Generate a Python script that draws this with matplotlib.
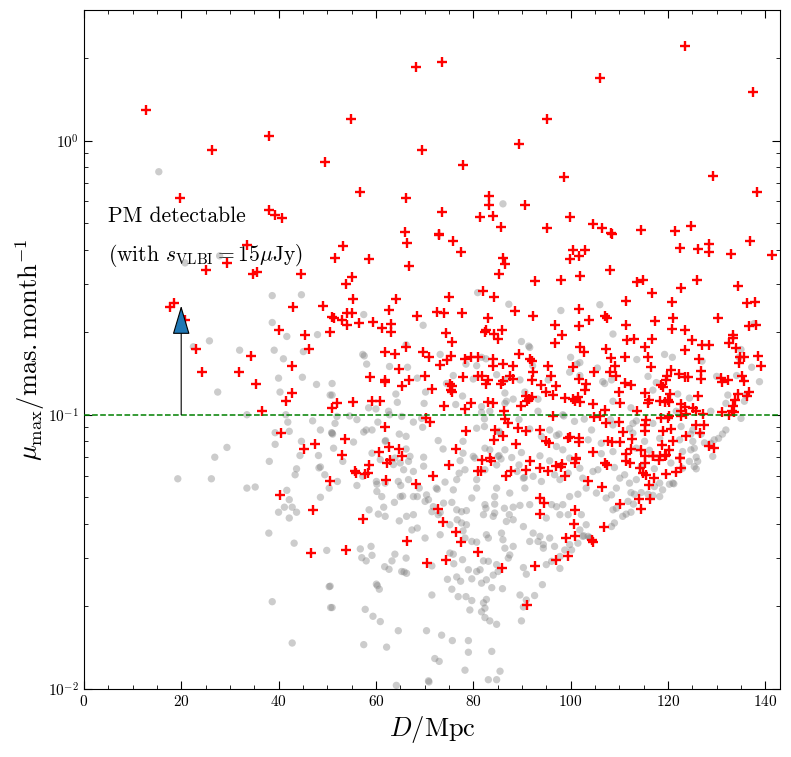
import matplotlib
matplotlib.use("Agg")
import matplotlib.pyplot as plt
import numpy as np

plt.rcParams['font.family'] = 'serif'
plt.rcParams['font.serif'] = ['cmr10']
plt.rcParams['mathtext.fontset'] = 'cm'
plt.rcParams['axes.formatter.use_mathtext'] = True

# PM-detectable sources (red pluses): (D [Mpc], mu_max [mas/month])
red_points = [
    (12.8,1.29),(26.3,0.925),(19.8,0.62),(38.0,1.04),(38.0,0.559),(39.3,0.536),(40.8,0.52),
    (49.5,0.833),(54.9,1.20),(56.8,0.648),(66.1,0.62),(65.9,0.463),(68.3,1.86),(69.5,0.925),
    (73.5,1.93),(77.8,0.815),(89.4,0.97),(95.2,1.20),(106.0,1.69),(123.5,2.22),(137.4,1.51),
    (98.6,0.735),(129.2,0.743),(138.3,0.648),(73.5,0.551),(83.3,0.628),(83.3,0.583),(90.7,0.583),
    (81.4,0.528),(84.1,0.531),(85.8,0.486),(95.2,0.482),(99.8,0.525),(104.7,0.495),(106.5,0.479),
    (108.2,0.459),(114.5,0.472),(121.5,0.468),(124.8,0.489),(73.0,0.455),
    (33.5,0.417),(29.4,0.358),(25.1,0.338),(34.8,0.326),(35.5,0.332),(44.7,0.326),(17.8,0.248),
    (18.6,0.256),(20.8,0.221),(42.9,0.247),(49.2,0.25),(50.9,0.227),(40.1,0.204),(45.4,0.196),
    (50.6,0.2),(23.0,0.174),(46.3,0.174),(34.4,0.164),(42.7,0.15),(24.3,0.143),(31.8,0.143),
    (35.3,0.129),(42.8,0.12),(41.5,0.112),(36.5,0.103),(50.9,0.106),(40.5,0.086),(45.2,0.075),
    (47.5,0.078),(50.6,0.0575),(40.3,0.051),(47.0,0.0448),(46.7,0.0313),
    (66.3,0.423),(72.9,0.451),(75.9,0.429),(77.4,0.393),(53.2,0.411),(51.5,0.373),(58.6,0.371),
    (66.9,0.348),(55.1,0.317),(53.8,0.300),(55.2,0.264),(64.1,0.265),(75.0,0.269),(62.6,0.242),
    (72.5,0.238),(74.0,0.236),(77.6,0.235),(54.0,0.235),(55.1,0.235),(51.4,0.226),(53.0,0.222),
    (54.0,0.213),(56.6,0.217),(59.3,0.218),(68.4,0.229),(63.2,0.214),(63.2,0.201),(61.3,0.207),
    (74.4,0.199),(75.7,0.185),(66.1,0.176),(61.9,0.169),(63.9,0.166),(69.7,0.169),(70.9,0.162),
    (73.2,0.152),(74.7,0.159),(75.5,0.164),(78.3,0.16),(79.5,0.162),(80.9,0.163),(64.8,0.147),
    (58.7,0.137),(61.8,0.134),(61.8,0.132),(66.9,0.134),(70.1,0.139),(65.3,0.127),(71.5,0.124),
    (77.9,0.137),(80.9,0.139),(75.2,0.13),(75.7,0.127),(75.4,0.123),(75.7,0.121),(52.0,0.11),
    (55.2,0.111),(59.2,0.112),(60.9,0.112),(74.0,0.108),(78.3,0.105),(79.5,0.110),(70.2,0.097),
    (71.1,0.094),(61.8,0.0906),(78.6,0.0875),(53.7,0.0815),(60.7,0.0734),(62.7,0.0762),
    (64.8,0.075),(76.4,0.075),(53.0,0.0715),(65.3,0.0705),
    (108.4,0.457),(100.4,0.398),(102.9,0.398),(99.8,0.37),(101.7,0.378),(86.1,0.373),(86.6,0.356),
    (85.3,0.327),(108.1,0.338),(92.6,0.308),(98.1,0.311),(101.9,0.32),(81.9,0.282),(84.2,0.269),
    (111.4,0.261),(88.5,0.239),(101.7,0.244),(92.3,0.229),(83.1,0.226),(103.8,0.222),(107.0,0.23),
    (107.5,0.225),(96.7,0.212),(101.7,0.21),(111.4,0.212),(82.4,0.201),(82.7,0.204),(84.3,0.197),
    (85.1,0.189),(85.9,0.204),(98.3,0.196),(96.7,0.182),(111.6,0.188),(101.9,0.177),(102.8,0.169),
    (107.3,0.173),(89.4,0.166),(91.6,0.16),(92.1,0.157),(84.1,0.16),(84.1,0.151),(86.1,0.153),
    (88.1,0.151),(95.4,0.15),(100.5,0.149),(108.2,0.161),(109.2,0.151),(111.2,0.162),(92.3,0.143),
    (92.1,0.134),(95.9,0.139),(87.5,0.138),(88.2,0.135),(81.7,0.138),(83.1,0.134),(82.7,0.13),
    (86.1,0.133),(85.8,0.129),(101.7,0.135),(104.8,0.143),(108.0,0.143),(109.4,0.139),(111.1,0.131),
    (94.0,0.128),(96.9,0.127),(103.2,0.13),(103.0,0.123),(95.0,0.121),(96.3,0.118),(109.9,0.121),
    (90.9,0.117),(91.4,0.114),(92.0,0.116),(91.1,0.112),(89.9,0.108),(83.1,0.111),(84.1,0.11),
    (98.8,0.115),(100.5,0.114),(101.5,0.116),(101.0,0.112),(101.9,0.111),(104.6,0.109),(107.0,0.104),
    (110.1,0.11),(86.3,0.103),(86.6,0.0966),(87.2,0.093),(96.4,0.0986),(104.9,0.098),(106.0,0.0986),
    (107.3,0.093),(109.9,0.0937),(84.4,0.088),(89.2,0.0893),(90.8,0.0873),(93.7,0.088),(110.7,0.0865),
    (86.1,0.084),(84.2,0.081),(95.0,0.0804),(95.5,0.0787),(99.5,0.0822),(99.9,0.0828),(101.7,0.0822),
    (101.7,0.0795),(107.7,0.0805),(108.5,0.0795),(110.1,0.0795),(88.7,0.078),(104.6,0.0734),
    (111.4,0.0721),(101.2,0.0695),(83.4,0.0695),
    (122.5,0.406),(126.2,0.402),(128.5,0.42),(128.5,0.394),(132.9,0.387),(136.8,0.432),(141.3,0.383),
    (113.6,0.305),(114.8,0.311),(126.0,0.311),(122.6,0.29),(116.8,0.278),(134.4,0.294),(120.8,0.258),
    (136.2,0.255),(137.9,0.257),(117.4,0.219),(121.0,0.225),(120.8,0.206),(130.2,0.225),(123.6,0.204),
    (136.6,0.21),(138.1,0.213),(133.3,0.196),(133.3,0.19),(132.6,0.182),(113.1,0.189),(116.8,0.189),
    (125.0,0.188),(115.3,0.177),(127.0,0.179),(128.5,0.18),(134.0,0.175),(123.6,0.172),(115.9,0.162),
    (126.3,0.16),(135.7,0.163),(134.8,0.163),(138.4,0.164),(134.5,0.154),(139.2,0.15),(116.5,0.149),
    (120.6,0.146),(119.8,0.139),(119.5,0.134),(122.2,0.141),(123.6,0.137),(124.1,0.137),(126.7,0.144),
    (126.7,0.135),(112.4,0.128),(118.6,0.128),(118.9,0.126),(130.9,0.136),(132.3,0.134),(131.2,0.132),
    (135.3,0.138),(135.7,0.133),(115.3,0.12),(120.5,0.119),(126.1,0.117),(134.3,0.119),(133.8,0.113),
    (133.3,0.108),(133.1,0.103),(136.7,0.121),(136.2,0.117),(116.1,0.113),(115.9,0.11),(118.3,0.112),
    (119.3,0.111),(120.0,0.113),(120.3,0.111),(122.7,0.109),(123.4,0.107),(125.1,0.106),(113.6,0.103),
    (122.7,0.103),(123.7,0.101),(125.8,0.103),(127.1,0.101),(131.2,0.102),(132.6,0.1),(133.6,0.102),
    (115.5,0.096),(115.2,0.092),(118.6,0.097),(120.0,0.097),(120.3,0.0986),(122.7,0.0986),(125.8,0.092),
    (127.5,0.092),(115.2,0.0873),(118.9,0.0869),(120.6,0.0887),(123.7,0.0834),(126.5,0.0857),
    (112.7,0.0815),(118.8,0.0776),(121.0,0.08),(128.5,0.077),(129.5,0.0755),(112.4,0.075),
    (114.5,0.0742),(115.2,0.0708),(116.9,0.0708),(118.3,0.0708),(119.6,0.0714),(122.4,0.0698),
    (120.3,0.0745),
    (58.5,0.0658),(55.7,0.0625),(55.9,0.0612),(57.8,0.0607),(58.3,0.0612),(62.2,0.0667),(62.8,0.0686),
    (62.1,0.058),(68.2,0.0558),(71.8,0.0598),(75.0,0.0658),(80.9,0.0621),(72.7,0.0453),(73.7,0.0405),
    (57.3,0.0416),(66.3,0.0347),(76.4,0.0375),(77.4,0.0343),(53.9,0.0321),(70.4,0.0288),(74.3,0.0294),
    (81.0,0.0315),
    (81.7,0.0686),(83.6,0.0676),(81.6,0.0621),(86.7,0.0596),(87.7,0.0621),(91.6,0.0676),(90.9,0.063),
    (93.7,0.0638),(95.4,0.0625),(97.1,0.0652),(98.3,0.066),(98.1,0.0647),(101.2,0.069),(100.8,0.0667),
    (98.8,0.0596),(103.6,0.0574),(107.0,0.0667),(107.5,0.0653),(111.4,0.0676),(106.5,0.0547),
    (93.7,0.0497),(94.6,0.0476),(93.7,0.0434),(101.0,0.045),(100.7,0.0399),(99.0,0.0356),(100.8,0.036),
    (104.3,0.035),(104.6,0.0343),(106.8,0.0391),(110.1,0.0472),(96.9,0.0296),(99.5,0.0305),
    (92.6,0.0281),(86.0,0.0275),(91.1,0.0203),
    (115.2,0.0667),(114.2,0.0638),(114.8,0.0612),(115.4,0.0601),(116.9,0.0705),(118.1,0.0686),
    (119.3,0.0705),(117.2,0.059),(119.6,0.0607),(121.7,0.0618),(122.7,0.0638),(122.4,0.0695),
    (116.2,0.0556),(114.0,0.0493),(116.3,0.0492),(114.5,0.0454),(112.3,0.0667),
]

# other sources (grey dots): (D [Mpc], mu_max [mas/month])
grey_points = [
    (15.4,0.77),(86.1,0.588),
    (27.9,0.38),(20.8,0.358),(38.7,0.272),(44.7,0.274),(38.7,0.217),(41.7,0.193),(48.0,0.196),
    (25.8,0.186),(22.5,0.177),(32.0,0.172),(39.1,0.172),(45.1,0.17),(41.0,0.16),(40.0,0.136),
    (44.9,0.137),(47.8,0.129),(50.6,0.118),(27.5,0.121),(40.3,0.121),(33.5,0.1),(41.5,0.1),
    (41.9,0.094),(47.0,0.095),(39.3,0.086),(42.2,0.087),(48.6,0.088),(50.9,0.086),(44.7,0.08),
    (39.3,0.078),(29.4,0.076),(48.2,0.071),(26.9,0.07),(44.4,0.071),
    (38.1,0.0676),(48.3,0.064),(48.6,0.0645),(43.7,0.0635),(43.4,0.0604),(49.5,0.0604),(19.3,0.0584),
    (26.2,0.0584),(33.5,0.054),(35.2,0.0545),(41.7,0.053),(50.4,0.054),(42.2,0.049),(48.6,0.05),
    (41.2,0.046),(42.8,0.046),(40.0,0.0441),(43.7,0.0441),(42.2,0.042),(38.0,0.037),(43.2,0.034),
    (49.9,0.032),(50.4,0.0236),(50.7,0.0198),(38.7,0.0208),(42.8,0.0147),
    (80.9,0.279),(57.5,0.232),(69.7,0.212),(66.2,0.18),(57.3,0.166),(57.6,0.164),(58.1,0.153),
    (62.8,0.15),(66.5,0.149),(73.2,0.166),(78.5,0.153),(80.7,0.151),(75.9,0.139),(80.0,0.135),
    (68.5,0.136),(51.0,0.13),(51.0,0.118),(64.1,0.119),(70.2,0.121),(74.5,0.13),(64.4,0.111),
    (69.9,0.11),(76.4,0.109),(77.8,0.117),(58.5,0.106),(60.0,0.105),(62.6,0.103),(62.8,0.1),
    (52.0,0.0986),(54.6,0.099),(56.1,0.096),(65.3,0.0986),(67.7,0.094),(69.4,0.097),(69.6,0.09),
    (60.4,0.094),(58.0,0.088),(59.2,0.088),(57.5,0.0865),(51.6,0.093),(51.0,0.0857),(51.1,0.0850),
    (64.8,0.085),(66.2,0.0834),(61.9,0.08),(62.0,0.0805),(55.4,0.0795),(72.8,0.0805),(77.9,0.08),
    (80.7,0.0893),(73.8,0.075),(51.3,0.0755),(59.2,0.0724),(66.2,0.075),(67.0,0.0705),(77.9,0.0724),
    (80.0,0.0705),
    (87.3,0.253),(98.0,0.24),(106.0,0.252),(108.7,0.197),(89.9,0.185),(91.6,0.176),(91.4,0.178),
    (100.0,0.162),(82.6,0.16),(81.7,0.162),(92.2,0.151),(101.3,0.153),(101.9,0.155),(105.5,0.148),
    (99.8,0.143),(101.9,0.139),(86.8,0.135),(84.8,0.14),(89.6,0.134),(95.4,0.134),(107.0,0.13),
    (106.6,0.132),(108.4,0.134),(90.6,0.121),(86.5,0.12),(86.8,0.112),(86.5,0.11),(88.2,0.114),
    (93.3,0.114),(81.7,0.107),(81.7,0.102),(83.4,0.103),(93.3,0.103),(98.4,0.1),(98.6,0.099),
    (108.7,0.112),(82.3,0.0966),(82.3,0.0906),(89.4,0.096),(100.8,0.0946),(102.8,0.0964),
    (108.2,0.096),(108.7,0.0918),(85.5,0.0857),(85.3,0.087),(91.6,0.0887),(95.7,0.088),(94.0,0.0834),
    (97.1,0.084),(97.6,0.085),(104.3,0.088),(103.6,0.081),(106.3,0.0787),(97.1,0.0766),(98.4,0.0745),
    (82.4,0.0755),(83.4,0.0745),(86.5,0.0745),(89.9,0.0728),(93.7,0.0708),(106.3,0.0721),
    (108.7,0.0734),(85.1,0.0705),(85.3,0.071),(99.8,0.0695),
    (113.6,0.159),(119.3,0.166),(120.9,0.162),(127.0,0.157),(115.9,0.138),(117.6,0.131),(130.0,0.138),
    (134.1,0.139),(137.2,0.149),(138.8,0.132),(135.0,0.173),(134.6,0.162),(137.7,0.215),(116.9,0.123),
    (122.0,0.119),(124.4,0.115),(132.3,0.118),(131.9,0.11),(136.0,0.118),(135.7,0.112),(112.4,0.106),
    (121.7,0.103),(128.8,0.103),(135.0,0.097),(112.8,0.093),(113.5,0.095),(112.1,0.089),(116.9,0.093),
    (122.7,0.0906),(125.1,0.088),(124.7,0.085),(126.8,0.085),(131.9,0.088),(131.2,0.085),(130.4,0.082),
    (129.5,0.081),(128.8,0.0787),(112.8,0.0857),(115.2,0.08),(118.3,0.082),(122.4,0.081),(125.1,0.08),
    (125.4,0.0755),(124.7,0.0745),(127.5,0.079),(113.5,0.0755),(116.2,0.0742),(123.0,0.0734),
    (125.8,0.07),
    (53.2,0.0676),(60.9,0.0686),(63.6,0.0658),(65.0,0.0667),(66.7,0.0676),(63.9,0.0695),(69.8,0.07),
    (65.7,0.063),(67.7,0.0621),(69.8,0.0649),(52.1,0.0571),(56.1,0.0552),(57.3,0.0596),(60.1,0.0571),
    (60.2,0.0558),(61.9,0.0563),(64.6,0.0571),(65.1,0.0552),(66.7,0.058),(60.2,0.0525),(61.2,0.0503),
    (65.0,0.0503),(65.5,0.0505),(67.7,0.0503),(68.5,0.0503),(68.9,0.054),(70.4,0.051),(70.8,0.049),
    (70.1,0.0483),(72.4,0.054),(72.6,0.0535),(74.2,0.0568),(76.6,0.058),(75.9,0.0532),(77.1,0.0612),
    (78.3,0.063),(77.3,0.068),(80.3,0.0695),(80.7,0.058),(79.7,0.0497),(80.7,0.054),(63.8,0.0479),
    (61.6,0.046),(58.6,0.045),(60.5,0.0434),(61.9,0.0426),(64.8,0.041),(66.3,0.0426),(67.7,0.0432),
    (71.5,0.0443),(71.8,0.0462),(73.9,0.0476),(75.6,0.0479),(72.8,0.0432),(73.2,0.044),(76.6,0.045),
    (77.6,0.0443),(78.6,0.0447),(76.7,0.0414),(77.6,0.0403),(78.6,0.0397),(75.2,0.0397),(67.4,0.038),
    (68.5,0.0386),(73.2,0.0365),(70.1,0.0355),(77.9,0.0377),(78.3,0.0355),(79.7,0.0345),(80.7,0.0343),
    (59.0,0.0331),(56.8,0.0324),(57.1,0.0301),(58.0,0.0293),(59.2,0.0307),(63.9,0.031),(63.3,0.0293),
    (66.2,0.03),(61.8,0.0279),(62.7,0.0273),(65.3,0.0268),(66.3,0.0264),(65.8,0.0267),(75.2,0.0313),
    (75.9,0.031),(76.0,0.0286),(77.8,0.0296),(71.5,0.0281),(79.0,0.0272),(74.7,0.0251),(76.6,0.0256),
    (77.4,0.0247),(79.7,0.0252),(80.7,0.0268),(75.6,0.0231),(76.9,0.0217),(78.5,0.0217),(79.7,0.021),
    (60.1,0.0241),(60.7,0.0231),(60.3,0.0238),(71.5,0.022),(50.6,0.0237),(51.0,0.0198),(57.8,0.0195),
    (59.4,0.0184),(60.9,0.0176),(64.6,0.0163),(70.4,0.0163),(73.5,0.0157),(75.7,0.015),(79.0,0.015),
    (79.3,0.0194),(57.5,0.0145),(62.2,0.0142),(79.0,0.0136),(72.1,0.0129),(73.0,0.0126),(78.3,0.0117),
    (70.8,0.0107),(70.9,0.0106),(64.2,0.0103),
    (82.4,0.063),(84.8,0.0656),(85.7,0.069),(87.9,0.0698),(89.4,0.0656),(89.0,0.0621),(90.3,0.0587),
    (90.5,0.0590),(92.3,0.0596),(94.0,0.0571),(95.7,0.0679),(96.7,0.0604),(97.8,0.058),(99.5,0.0612),
    (101.9,0.0638),(102.5,0.0587),(104.6,0.0621),(105.6,0.063),(109.0,0.0642),(110.1,0.0587),
    (111.1,0.0604),(109.4,0.054),(108.4,0.051),(107.3,0.0497),(105.3,0.0518),(103.2,0.054),
    (101.5,0.0513),(99.8,0.0503),(98.4,0.047),(97.1,0.0462),(96.1,0.047),(97.8,0.0432),(99.5,0.0432),
    (102.2,0.0432),(103.2,0.0397),(101.9,0.038),(102.5,0.036),(102.7,0.0362),(103.6,0.036),(95.0,0.042),
    (95.7,0.0355),(94.4,0.0336),(93.7,0.036),(92.3,0.037),(91.6,0.0345),(93.3,0.0345),(94.4,0.0326),
    (90.3,0.0391),(88.2,0.0414),(86.8,0.0408),(87.4,0.0432),(84.1,0.0426),(84.4,0.0438),(82.4,0.047),
    (82.6,0.0456),(84.4,0.0472),(86.4,0.0456),(88.2,0.046),(89.6,0.0467),(91.6,0.047),(90.6,0.054),
    (87.5,0.0518),(84.8,0.054),(84.4,0.0503),(82.1,0.0432),(82.7,0.0365),(83.1,0.0355),(85.8,0.037),
    (86.1,0.035),(88.2,0.0331),(86.5,0.0326),(87.5,0.0308),(87.2,0.03),(83.1,0.0292),(82.1,0.0293),
    (84.8,0.0284),(85.1,0.0268),(84.1,0.026),(82.7,0.025),(81.7,0.0243),(81.4,0.0272),(83.8,0.0234),
    (86.0,0.0232),(82.1,0.0206),(82.7,0.0212),(82.4,0.0197),(81.7,0.0191),(82.4,0.0182),(83.4,0.0177),
    (84.8,0.0172),(89.9,0.0177),(89.6,0.022),(90.9,0.0211),(92.6,0.0219),(90.3,0.0199),(94.2,0.024),
    (90.3,0.0277),(90.9,0.0262),(95.0,0.0284),(96.1,0.0292),(97.8,0.0275),(97.8,0.0304),(96.7,0.0331),
    (98.8,0.0321),(100.2,0.0321),(99.8,0.0336),(101.5,0.034),(103.9,0.0356),(104.1,0.0354),
    (108.4,0.0391),(109.0,0.0403),(110.7,0.0426),(111.4,0.0434),(109.4,0.0456),(108.7,0.045),
    (111.8,0.0483),(83.8,0.0137),(85.5,0.0116),(84.8,0.0108),(83.1,0.0108),
    (120.6,0.0667),(124.4,0.0676),(126.1,0.0676),(125.4,0.0647),(125.8,0.0635),(129.2,0.0705),
    (123.0,0.0638),(117.2,0.0635),(114.5,0.0647),(118.3,0.0563),(118.9,0.0532),(120.3,0.0558),
    (121.0,0.0563),(121.2,0.0560),(113.5,0.058),(112.1,0.0563),(112.4,0.052),(113.1,0.0513),
    (114.5,0.052),(115.9,0.0513),(116.9,0.0508),(118.3,0.0503),(112.9,0.0472),(112.4,0.0441),
    (117.2,0.0547),
]

red_D = [p[0] for p in red_points]
red_mu = [p[1] for p in red_points]
grey_D = [p[0] for p in grey_points]
grey_mu = [p[1] for p in grey_points]

mu_threshold = 0.1
arrow_D = 20
arrow_top = 0.25

fig = plt.figure(figsize=(7.91, 7.57), dpi=100)
ax = fig.add_axes([0.106, 0.090, 0.880, 0.897])

ax.scatter(grey_D, grey_mu, s=28, color='gray', alpha=0.4, edgecolors='none', zorder=2)
ax.scatter(red_D, red_mu, s=55, marker='+', color='red', linewidths=1.7, zorder=3)

ax.axhline(mu_threshold, color='green', ls='--', lw=1.1, zorder=4)

ax.annotate('', xy=(arrow_D, arrow_top), xytext=(arrow_D, mu_threshold),
            arrowprops=dict(arrowstyle='-|>,head_length=1.85,head_width=0.55',
                            mutation_scale=10, fc='#1f77b4', ec='black', lw=0.8,
                            shrinkA=0, shrinkB=0), zorder=5)

ax.text(5, 0.53, 'PM detectable', fontsize=15.5, va='center', ha='left', zorder=1)
ax.text(5, 0.38, r'(with $s_{\rm VLBI} = 15\mu$Jy)', fontsize=15.5, va='center', ha='left', zorder=1)

ax.set_yscale('log')
ax.set_xlim(0, 143)
ax.set_ylim(0.01, 3.0)
ax.set_xticks([0, 20, 40, 60, 80, 100, 120, 140])
ax.xaxis.set_minor_locator(matplotlib.ticker.MultipleLocator(5))
ax.tick_params(which='both', direction='in', top=True, right=True, labelsize=11)
ax.tick_params(which='major', length=6)
ax.tick_params(which='minor', length=3)

ax.set_xlabel(r'$D/{\rm Mpc}$', fontsize=19)
ax.set_ylabel(r'$\mu_{\rm max}/{\rm mas{.}month}^{-1}$', fontsize=19, labelpad=1)

fig.savefig('out.png', dpi=100)
